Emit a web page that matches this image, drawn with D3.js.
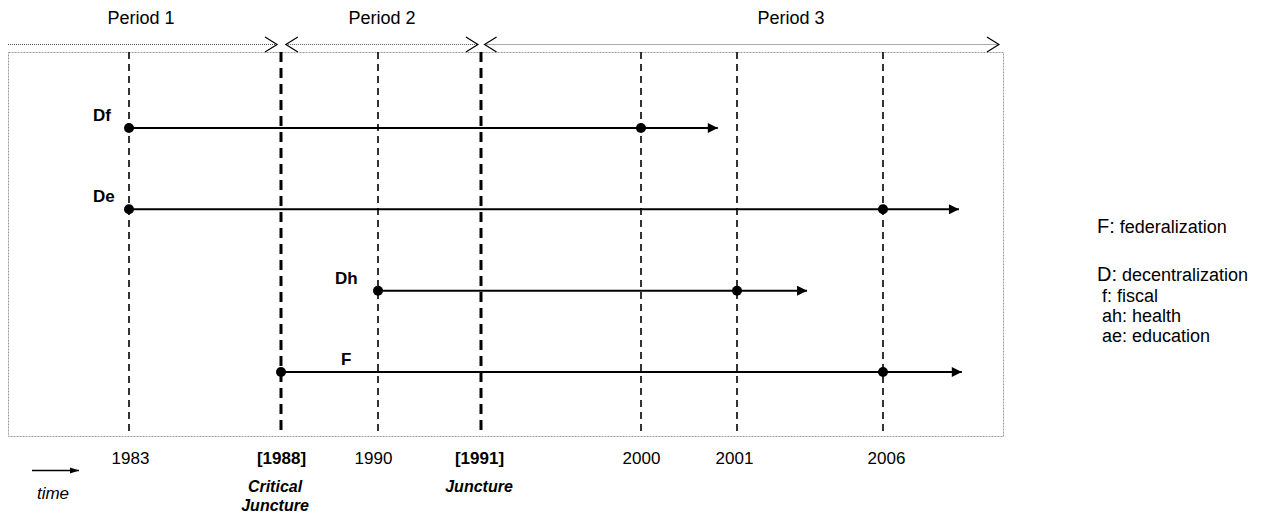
<!DOCTYPE html>
<html>
<head>
<meta charset="utf-8">
<script src="https://cdn.jsdelivr.net/npm/d3@7"></script>
<style>
  body { margin: 0; background: #fff; }
  text { font-family: "Liberation Sans", Arial, sans-serif; fill: #000; }
</style>
</head>
<body>
<svg width="1265" height="515"></svg>
<script>
// years marked on the timeline (spacing in the original is not proportional)
var years = [1983, 1988, 1990, 1991, 2000, 2001, 2006];
var yearPos = [129, 281, 378, 481, 641, 737, 883];
var junctures = [1988, 1991];

// processes: name, start, later milestone, end of arrow
var rows = ["Df", "De", "Dh", "F"];
var starts = [1983, 1983, 1990, 1988];
var marks = [2000, 2006, 2001, 2006];
var ends = [2000.8, 2008.6, 2003.4, 2008.7];

var periods = ["Period 1", "Period 2", "Period 3"];
var periodSpan = [[1979, 1987.87], [1988.1, 1990.97], [1991.2, 2009.97]];

var legend = [["F:", " federalization"], ["D:", " decentralization"], [" f:", " fiscal"], [" ah:", " health"], [" ae:", " education"]];

var svg = d3.select("svg");

var x = d3.scaleLinear()
    .domain([1979].concat(years))
    .range([8].concat(yearPos));

var y = d3.scalePoint()
    .domain(rows)
    .range([128, 372]);

var frameTop = 52, frameBottom = 436;

var defs = svg.append("defs");
defs.append("marker")
    .attr("id", "head")
    .attr("viewBox", "0 0 10 10")
    .attr("refX", 10).attr("refY", 5)
    .attr("markerWidth", 11).attr("markerHeight", 10)
    .attr("markerUnits", "userSpaceOnUse")
    .attr("orient", "auto")
  .append("path")
    .attr("d", "M0,0L10,5L0,10Z")
    .attr("fill", "#000");

// frame
svg.append("rect")
    .attr("x", 8.5).attr("y", frameTop + 0.5)
    .attr("width", 995).attr("height", frameBottom - frameTop)
    .attr("fill", "none")
    .attr("stroke", "#999")
    .attr("stroke-dasharray", "2,1");

// period brackets
var pg = svg.append("g");
periods.forEach(function(p, i) {
  var a = x(periodSpan[i][0]), b = x(periodSpan[i][1]);
  pg.append("line")
      .attr("x1", a).attr("x2", b)
      .attr("y1", 44.5).attr("y2", 44.5)
      .attr("stroke", "#555")
      .attr("stroke-dasharray", "1,1");
  if (i > 0) {
    pg.append("path")
        .attr("d", "M" + (a + 12) + ",37L" + a + ",44.5L" + (a + 12) + ",52")
        .attr("fill", "none").attr("stroke", "#000").attr("stroke-width", 1.2);
  }
  pg.append("path")
      .attr("d", "M" + (b - 12) + ",37L" + b + ",44.5L" + (b - 12) + ",52")
      .attr("fill", "none").attr("stroke", "#000").attr("stroke-width", 1.2);
});
pg.selectAll(".plabel")
    .data(periods)
    .enter().append("text")
    .attr("x", function(d, i) { return [141, 382, 791][i]; })
    .attr("y", 24)
    .attr("text-anchor", "middle")
    .attr("font-size", 18)
    .text(function(d) { return d; });

// vertical year lines
svg.append("g").selectAll("line")
    .data(years)
    .enter().append("line")
    .attr("x1", function(d) { return x(d); })
    .attr("x2", function(d) { return x(d); })
    .attr("y1", frameTop).attr("y2", frameBottom)
    .attr("stroke", "#000")
    .attr("stroke-width", function(d) { return junctures.indexOf(d) >= 0 ? 3 : 1.6; })
    .attr("stroke-dasharray", function(d) { return junctures.indexOf(d) >= 0 ? "10,6" : "7,5"; });

// axis labels
var labelShift = [1, 0, -5, -2, 0, -3, 3];
var ax = d3.axisBottom(x)
    .tickValues(years)
    .tickSize(0)
    .tickPadding(0)
    .tickFormat(function(d) { return junctures.indexOf(d) >= 0 ? "[" + d + "]" : d; });
var axg = svg.append("g")
    .attr("transform", "translate(0,464)")
    .call(ax);
axg.select(".domain").remove();
axg.selectAll("text")
    .attr("dy", 0)
    .attr("dx", function(d, i) { return labelShift[i]; })
    .attr("font-size", 17)
    .attr("font-family", "Liberation Sans, Arial, sans-serif")
    .attr("fill", "#000")
    .attr("font-weight", function(d) { return junctures.indexOf(d) >= 0 ? "bold" : "normal"; });

svg.append("text").attr("x", x(1988) - 6).attr("y", 492)
    .attr("text-anchor", "middle").attr("font-size", 16)
    .attr("font-weight", "bold").attr("font-style", "italic").text("Critical");
svg.append("text").attr("x", x(1988) - 6).attr("y", 511)
    .attr("text-anchor", "middle").attr("font-size", 16)
    .attr("font-weight", "bold").attr("font-style", "italic").text("Juncture");
svg.append("text").attr("x", x(1991) - 2).attr("y", 492)
    .attr("text-anchor", "middle").attr("font-size", 16)
    .attr("font-weight", "bold").attr("font-style", "italic").text("Juncture");

// time arrow
svg.append("line")
    .attr("x1", 32).attr("x2", 79).attr("y1", 470.5).attr("y2", 470.5)
    .attr("stroke", "#000").attr("stroke-width", 1.5);
svg.append("path").attr("d", "M70,467.5L79,470.5L70,473.5Z").attr("fill", "#000");
svg.append("text").attr("x", 53).attr("y", 499)
    .attr("text-anchor", "middle").attr("font-size", 17)
    .attr("font-style", "italic").text("time");

// process lines
var g = svg.append("g");
g.selectAll(".proc")
    .data(rows)
    .enter().append("line")
    .attr("x1", function(d, i) { return x(starts[i]); })
    .attr("x2", function(d, i) { return x(ends[i]); })
    .attr("y1", function(d) { return y(d); })
    .attr("y2", function(d) { return y(d); })
    .attr("stroke", "#000")
    .attr("stroke-width", 2)
    .attr("marker-end", "url(#head)");

g.selectAll(".s")
    .data(rows)
    .enter().append("circle")
    .attr("cx", function(d, i) { return x(starts[i]); })
    .attr("cy", function(d) { return y(d); })
    .attr("r", 5);
g.selectAll(".m")
    .data(rows)
    .enter().append("circle")
    .attr("cx", function(d, i) { return x(marks[i]); })
    .attr("cy", function(d) { return y(d); })
    .attr("r", 5);

var labelDx = [-36, -36, -43, 60];
g.selectAll(".lab")
    .data(rows)
    .enter().append("text")
    .attr("x", function(d, i) { return x(starts[i]) + labelDx[i]; })
    .attr("y", function(d) { return y(d) - 7; })
    .attr("font-size", 17)
    .attr("font-weight", "bold")
    .text(function(d) { return d; });

// legend
var lg = svg.append("g").attr("transform", "translate(1097,0)");
var ly = [233, 281, 302, 322, 342];
legend.forEach(function(l, i) {
  var t = lg.append("text").attr("x", 0).attr("y", ly[i]).attr("xml:space", "preserve");
  t.append("tspan").attr("font-size", i < 2 ? 20 : 18).text(l[0]);
  t.append("tspan").attr("font-size", 18).text(l[1]);
});
</script>
</body>
</html>
